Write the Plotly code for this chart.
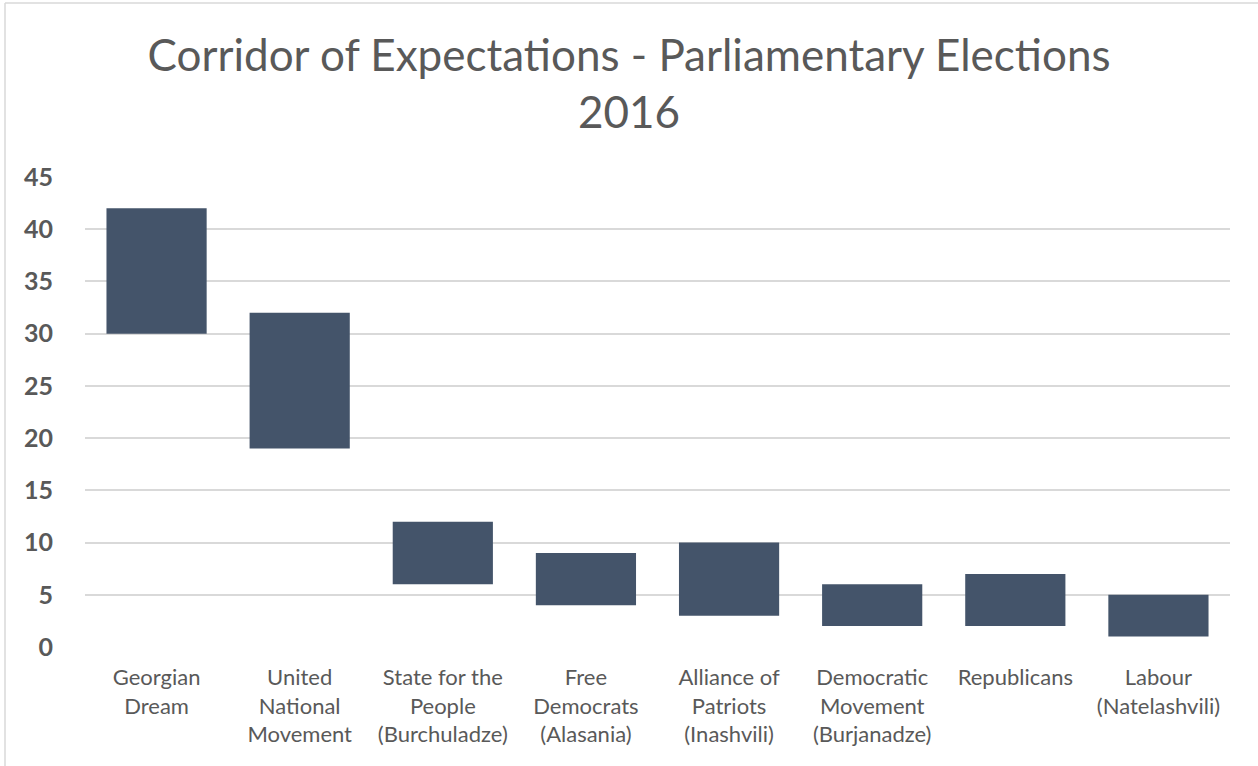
import plotly.graph_objects as go

parties = ["Georgian<br>Dream", "United<br>National<br>Movement", "State for the<br>People<br>(Burchuladze)",
           "Free<br>Democrats<br>(Alasania)", "Alliance of<br>Patriots<br>(Inashvili)",
           "Democratic<br>Movement<br>(Burjanadze)", "Republicans", "Labour<br>(Natelashvili)"]
low = [30, 19, 6, 4, 3, 2, 2, 1]
high = [42, 32, 12, 9, 10, 6, 7, 5]
y_ticks = [0, 5, 10, 15, 20, 25, 30, 35, 40, 45]

fig = go.Figure()
fig.add_trace(go.Bar(
    x=parties,
    y=[h - l for h, l in zip(high, low)],
    base=low,
    marker=dict(color="#44546a", line=dict(width=0)),
    width=0.7,
    hoverinfo="skip",
))

W, H = 1258, 766
ml, mr, mt, mb = 85, 28, 177, 119
pw, ph = W - ml - mr, H - mt - mb

def px_x(x):
    return (x - ml) / pw

def px_y(y):
    return (H - mb - y) / ph

fig.update_layout(
    width=W, height=H,
    margin=dict(l=ml, r=mr, t=mt, b=mb),
    paper_bgcolor="white", plot_bgcolor="white",
    font=dict(family="Lato, sans-serif", color="#595959"),
    title=dict(text="Corridor of Expectations - Parliamentary Elections<br>2016",
               x=0.5, xanchor="center", y=1 - 71 / H, yanchor="middle",
               font=dict(size=44, color="#595959", family="Lato, sans-serif")),
    showlegend=False,
    bargap=0.3,
    xaxis=dict(showgrid=False, showline=False, zeroline=False,
               tickfont=dict(size=22, color="#595959"), ticks="",
               ticklabelstandoff=15),
    yaxis=dict(range=[0, 45], tickvals=y_ticks, showgrid=True, gridcolor="#d9d9d9",
               gridwidth=1.5, zeroline=False, showline=False,
               tickfont=dict(size=25, color="#595959", family="Lato, sans-serif", weight="bold"),
               ticklabelstandoff=31),
    shapes=[
        dict(type="line", xref="paper", yref="paper", x0=px_x(5), x1=px_x(5),
             y0=px_y(766), y1=px_y(3), line=dict(color="#d9d9d9", width=1.5)),
        dict(type="line", xref="paper", yref="paper", x0=px_x(5), x1=px_x(1258),
             y0=px_y(3), y1=px_y(3), line=dict(color="#d9d9d9", width=1.5)),
    ],
)

fig.write_html("out.html", config={"displayModeBar": False},
               post_script="document.body.style.margin='0';")
